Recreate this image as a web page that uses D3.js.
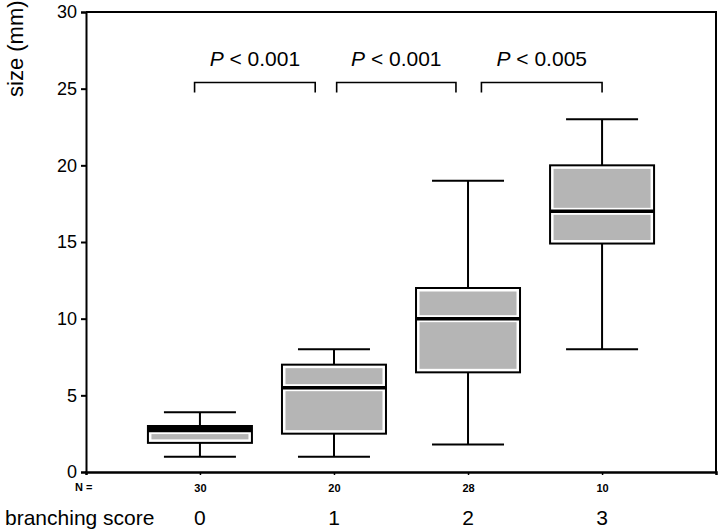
<!DOCTYPE html>
<html>
<head>
<meta charset="utf-8">
<script src="https://cdn.jsdelivr.net/npm/d3@7"></script>
<style>
  body { margin: 0; background: #fff; }
  svg { display: block; font-family: "Liberation Sans", Arial, sans-serif; }
</style>
</head>
<body>
<div id="chart"></div>
<script>
// branching score groups
const scores = ["0", "1", "2", "3"];
const counts = ["30", "20", "28", "10"];
const mins = [1.0, 1.0, 1.8, 8.0];
const q1s = [1.9, 2.5, 6.5, 14.9];
const medians = [2.7, 5.5, 10.0, 17.0];
const q3s = [3.0, 7.0, 12.0, 20.0];
const maxs = [3.9, 8.0, 19.0, 23.0];
const yTicks = [0, 5, 10, 15, 20, 25, 30];

// significance brackets (category index from / to, y value)
const pLabels = ["< 0.001", "< 0.001", "< 0.005"];
const pFrom = [-0.04, 1.02, 2.10];
const pTo = [0.86, 1.91, 3.0];
const pLevel = 25.4;

const W = 720, H = 532;
const margin = { top: 12, right: 4, bottom: 60, left: 86 };
const width = W - margin.left - margin.right,
  height = H - margin.top - margin.bottom;
const boxWidth = 104, capWidth = 72;

const svg = d3.select("#chart").append("svg")
  .attr("width", W).attr("height", H);

const g = svg.append("g")
  .attr("transform", "translate(" + margin.left + "," + margin.top + ")");

const xScale = d3.scalePoint().domain(scores).range([0, width]).padding(0.85);
const xIndex = d3.scaleLinear().domain([0, 3]).range([xScale("0"), xScale("3")]);
const yScale = d3.scaleLinear().domain([0, 30]).range([height, 0]);

const boxes = scores.map((s, i) => ({
  s, n: counts[i], min: mins[i], q1: q1s[i], med: medians[i], q3: q3s[i], max: maxs[i]
}));

// frame (top + right)
g.append("path")
  .attr("d", "M0,0H" + width + "V" + height)
  .attr("fill", "none").attr("stroke", "#000").attr("stroke-width", 2);

// y axis
const yAxis = g.append("g")
  .call(d3.axisLeft(yScale).tickValues(yTicks).tickSize(5).tickPadding(4));
yAxis.select(".domain").attr("stroke-width", 2);
yAxis.selectAll(".tick line").attr("stroke-width", 2);
yAxis.selectAll("text").attr("font-size", 18).attr("fill", "#000");

// x axis with N counts
const xAxis = g.append("g")
  .attr("transform", "translate(0," + height + ")")
  .call(d3.axisBottom(xScale).tickSize(3).tickPadding(9).tickFormat((d, i) => counts[i]));
xAxis.select(".domain").attr("stroke-width", 2.5);
xAxis.selectAll(".tick line").attr("stroke-width", 1.5);
xAxis.selectAll("text").attr("font-size", 11).attr("font-weight", "bold").attr("fill", "#000");

g.append("text")
  .attr("x", -11).attr("y", height + 19)
  .attr("font-size", 11).attr("font-weight", "bold")
  .text("N =");

// whiskers
const whisk = g.selectAll(".whisk").data(boxes).enter().append("g")
  .attr("stroke", "#000").attr("stroke-width", 2);
whisk.append("line")
  .attr("x1", d => xScale(d.s)).attr("x2", d => xScale(d.s))
  .attr("y1", d => yScale(d.min)).attr("y2", d => yScale(d.max));
whisk.append("line")
  .attr("x1", d => xScale(d.s) - capWidth / 2).attr("x2", d => xScale(d.s) + capWidth / 2)
  .attr("y1", d => yScale(d.max)).attr("y2", d => yScale(d.max));
whisk.append("line")
  .attr("x1", d => xScale(d.s) - capWidth / 2).attr("x2", d => xScale(d.s) + capWidth / 2)
  .attr("y1", d => yScale(d.min)).attr("y2", d => yScale(d.min));

// boxes: black outline, white gap, gray fill
g.selectAll(".box").data(boxes).enter().append("rect")
  .attr("x", d => xScale(d.s) - boxWidth / 2)
  .attr("y", d => yScale(d.q3))
  .attr("width", boxWidth)
  .attr("height", d => yScale(d.q1) - yScale(d.q3))
  .attr("fill", "#fff").attr("stroke", "#000").attr("stroke-width", 2);

const inset = 3.5;
function grayPart(top, bottom) {
  // sections too thin for the gray fill merge into a solid black band
  return g.selectAll(null).data(boxes).enter().append("rect")
    .attr("x", d => xScale(d.s) - boxWidth / 2 + (yScale(bottom(d)) - yScale(top(d)) > 2 * inset ? inset : 0))
    .attr("width", d => boxWidth - (yScale(bottom(d)) - yScale(top(d)) > 2 * inset ? 2 * inset : 0))
    .attr("y", d => yScale(top(d)) + (yScale(bottom(d)) - yScale(top(d)) > 2 * inset ? inset : 0))
    .attr("height", d => {
      const h = yScale(bottom(d)) - yScale(top(d));
      return h > 2 * inset ? h - 2 * inset : h;
    })
    .attr("fill", d => yScale(bottom(d)) - yScale(top(d)) > 2 * inset ? "#b5b5b5" : "#000");
}
grayPart(d => d.q3, d => d.med);
grayPart(d => d.med, d => d.q1);

// medians
g.selectAll(".med").data(boxes).enter().append("line")
  .attr("x1", d => xScale(d.s) - boxWidth / 2).attr("x2", d => xScale(d.s) + boxWidth / 2)
  .attr("y1", d => yScale(d.med)).attr("y2", d => yScale(d.med))
  .attr("stroke", "#000").attr("stroke-width", 3.5);

// significance brackets
pLabels.forEach((lab, i) => {
  const x1 = xIndex(pFrom[i]), x2 = xIndex(pTo[i]), y = yScale(pLevel);
  g.append("path")
    .attr("d", "M" + x1 + "," + (y + 10) + "V" + y + "H" + x2 + "V" + (y + 10))
    .attr("fill", "none").attr("stroke", "#000").attr("stroke-width", 1.6);
  const t = g.append("text")
    .attr("x", (x1 + x2) / 2).attr("y", y - 17)
    .attr("text-anchor", "middle").attr("font-size", 21);
  t.append("tspan").attr("font-style", "italic").text("P");
  t.append("tspan").text(" " + lab);
});

// y label
svg.append("text")
  .attr("transform", "translate(23,97) rotate(-90)")
  .attr("font-size", 22)
  .text("size (mm)");

// bottom category labels
svg.append("text")
  .attr("x", 5).attr("y", 525)
  .attr("font-size", 21)
  .text("branching score");
svg.selectAll(".cat").data(scores).enter().append("text")
  .attr("x", d => margin.left + xScale(d)).attr("y", 525)
  .attr("text-anchor", "middle").attr("font-size", 21)
  .text(d => d);
</script>
</body>
</html>
